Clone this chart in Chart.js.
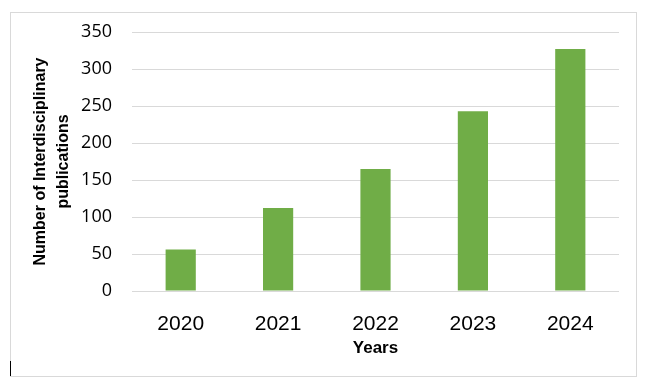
<!DOCTYPE html>
<html>
<head>
<meta charset="utf-8">
<script src="https://cdn.jsdelivr.net/npm/chart.js@4"></script>
<style>
  html, body { margin: 0; padding: 0; background: #fff; }
  #wrap { width: 645px; height: 384px; }
</style>
</head>
<body>
<div id="wrap"><canvas id="chart"></canvas></div>
<script>
const years = ['2020', '2021', '2022', '2023', '2024'];
const publications = [56, 112, 165, 243, 327];
const yMax = 350;
const yStep = 50;

// light frame around the whole picture
const frame = {
  id: 'frame',
  beforeDraw(chart) {
    const ctx = chart.ctx;
    ctx.save();
    ctx.strokeStyle = '#d9d9d9';
    ctx.lineWidth = 1;
    ctx.strokeRect(10.5, 12.5, 626, 364);
    ctx.strokeStyle = '#000';
    ctx.beginPath();
    ctx.moveTo(10.5, 361);
    ctx.lineTo(10.5, 376);
    ctx.stroke();
    ctx.restore();
  },
};

const chart = new Chart(document.getElementById('chart'), {
  type: 'bar',
  data: {
    labels: years,
    datasets: [
      {
        data: publications,
        backgroundColor: '#70ad47',
        barPercentage: 0.31,
        categoryPercentage: 1,
      },
    ],
  },
  plugins: [frame],
  options: {
    responsive: true,
    maintainAspectRatio: false,
    animation: false,
    layout: {
      padding: { left: 20, right: 26, top: 32, bottom: 20 },
    },
    plugins: {
      legend: { display: false },
      tooltip: { enabled: false },
    },
    scales: {
      x: {
        grid: { display: false, drawTicks: false },
        border: { display: false },
        ticks: {
          color: '#000',
          padding: 21,
          font: { family: 'Liberation Sans', size: 21 },
        },
        title: {
          display: true,
          text: 'Years',
          color: '#000',
          padding: { top: 0, bottom: 5 },
          font: { family: 'Liberation Sans', size: 17, weight: 'bold' },
        },
        afterFit(scale) {
          scale.height = 73;
        },
      },
      y: {
        min: 0,
        max: yMax,
        grid: { color: '#d9d9d9', drawTicks: false },
        border: { display: false },
        ticks: {
          stepSize: yStep,
          color: '#000',
          padding: 20,
          font: { family: 'Open Sans', size: 18 },
        },
        title: {
          display: true,
          text: ['Number of Interdisciplinary', 'publications'],
          color: '#000',
          padding: { top: 9, bottom: 0 },
          font: { family: 'Liberation Sans', size: 16, weight: 'bold', lineHeight: 1.44 },
        },
        afterFit(scale) {
          scale.width = 112;
        },
      },
    },
  },
});
</script>
</body>
</html>
